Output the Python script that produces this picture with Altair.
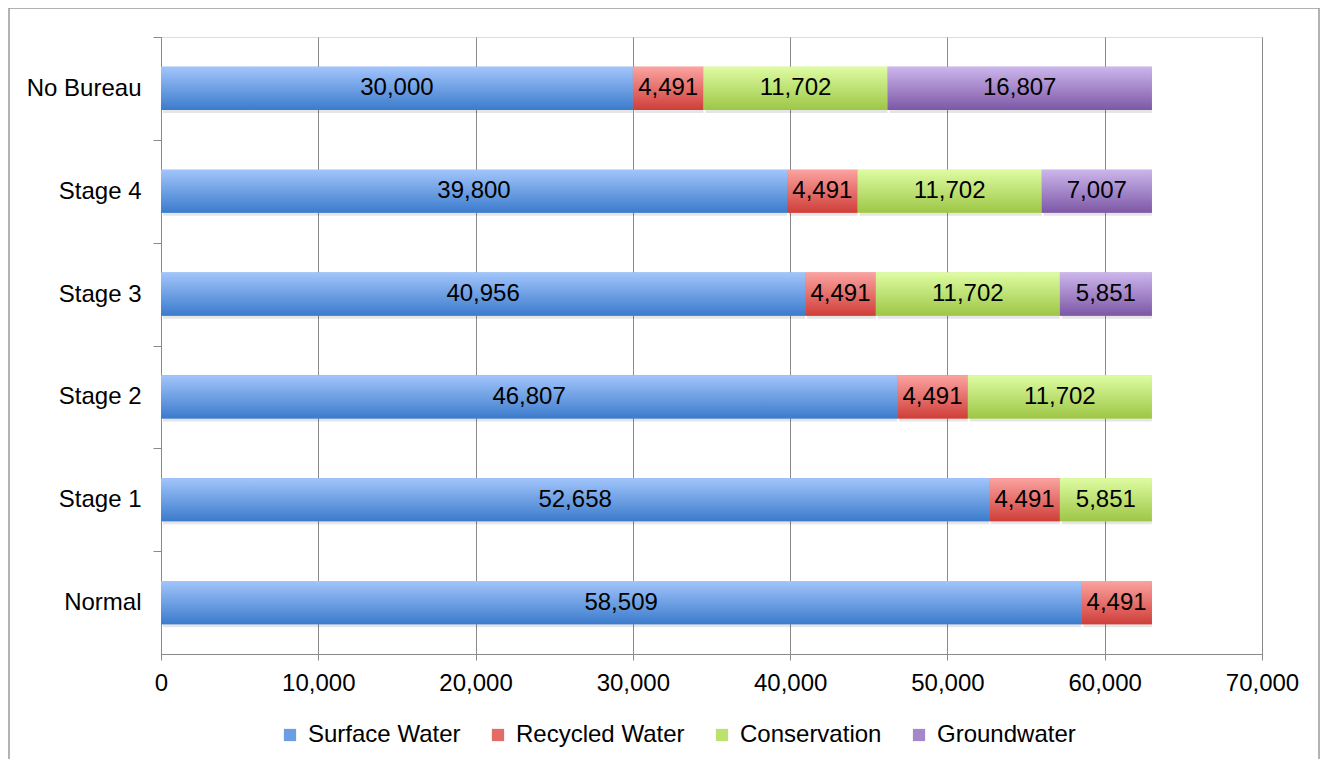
import altair as alt
import pandas as pd

categories = ["No Bureau", "Stage 4", "Stage 3", "Stage 2", "Stage 1", "Normal"]
series = ["Surface Water", "Recycled Water", "Conservation", "Groundwater"]
surface_water = [30000, 39800, 40956, 46807, 52658, 58509]
recycled_water = [4491, 4491, 4491, 4491, 4491, 4491]
conservation = [11702, 11702, 11702, 11702, 5851, 0]
groundwater = [16807, 7007, 5851, 0, 0, 0]
x_ticks = [0, 10000, 20000, 30000, 40000, 50000, 60000, 70000]

grad_top = ["#a2c5fb", "#fba3a0", "#defca2", "#ccb6ec"]
grad_bottom = ["#3b7bcc", "#cf3e39", "#9dc646", "#7c57a6"]
legend_colors = ["#6c9ee4", "#e56b66", "#bde16e", "#a488cc"]

rows = []
for s_i, (name, vals) in enumerate(zip(series, [surface_water, recycled_water, conservation, groundwater])):
    for c, v in zip(categories, vals):
        if v > 0:
            rows.append({"cat": c, "series": name, "value": v, "order": s_i})
df = pd.DataFrame(rows)

FONT = "Liberation Sans"
FS = 24
H = 617
STEP = H / len(categories)

base = alt.Chart(df).transform_stack(
    stack="value", groupby=["cat"], sort=[alt.SortField("order")], as_=["x0", "x1"]
).transform_calculate(mid="(datum.x0 + datum.x1) / 2")

xscale = alt.Scale(domain=[0, 70000], nice=False, zero=True)
xaxis = alt.Axis(values=x_ticks, format=",.0f", grid=True, gridColor="#8a8a8a", gridWidth=1,
                 domainColor="#8a8a8a", tickColor="#8a8a8a", tickSize=6, labelPadding=11,
                 labelFlush=False, labelOverlap=False,
                 labelFontSize=FS, labelColor="#000", labelFont=FONT, title=None)
yenc = alt.Y("cat:N", sort=categories,
             scale=alt.Scale(paddingInner=0.58, paddingOuter=0.29),
             axis=alt.Axis(title=None, tickOffset=-STEP / 2, labelOffset=STEP / 2,
                           domainColor="#8a8a8a", tickColor="#8a8a8a",
                           tickSize=8, labelPadding=12, labelFontSize=FS, labelColor="#000",
                           labelFont=FONT, grid=False))
xenc = alt.X("x0:Q", scale=xscale, axis=xaxis)
x2enc = alt.X2("x1:Q")

shadow = base.mark_bar(color="#000", opacity=0.10, xOffset=2, yOffset=3).encode(
    x=xenc, x2=x2enc, y=yenc)

legend_layer = base.mark_bar().encode(
    x=xenc, x2=x2enc, y=yenc,
    color=alt.Color("series:N", sort=series,
                    scale=alt.Scale(domain=series, range=legend_colors),
                    legend=alt.Legend(orient="none", legendX=117, legendY=686, direction="horizontal",
                                      title=None, symbolType="square", symbolSize=150,
                                      symbolStrokeWidth=0, labelFontSize=FS, labelFont=FONT,
                                      labelLimit=400, labelColor="#000", columnPadding=25,
                                      gridAlign="none", labelOffset=6)))

grad_layers = []
for name, top, bot in zip(series, grad_top, grad_bottom):
    g = alt.Gradient(gradient="linear", x1=0, x2=0, y1=0, y2=1,
                     stops=[alt.GradientStop(color=top, offset=0),
                            alt.GradientStop(color=bot, offset=1)])
    grad_layers.append(
        base.transform_filter(alt.datum.series == name).mark_bar(color=g).encode(
            x=xenc, x2=x2enc, y=yenc))

labels = base.mark_text(fontSize=FS, font=FONT, color="#000").encode(
    x=alt.X("mid:Q", scale=xscale, axis=xaxis), y=yenc,
    text=alt.Text("value:Q", format=",.0f"))

frame = alt.Chart(pd.DataFrame({"a": [0]})).mark_rect(
    fillOpacity=0, stroke="#9a9a9a", strokeWidth=1.5).encode(
    x=alt.value(-152), x2=alt.value(1158), y=alt.value(-29), y2=alt.value(800))

chart = alt.layer(frame, shadow, legend_layer, *grad_layers, labels).properties(
    width=1101, height=H,
    padding={"left": 153, "top": 29, "right": 59, "bottom": 105},
    autosize=alt.AutoSizeParams(type="none"),
).configure_view(stroke=None).configure(font=FONT)

chart.save("out.html", embed_options={"renderer": "svg", "actions": False})
